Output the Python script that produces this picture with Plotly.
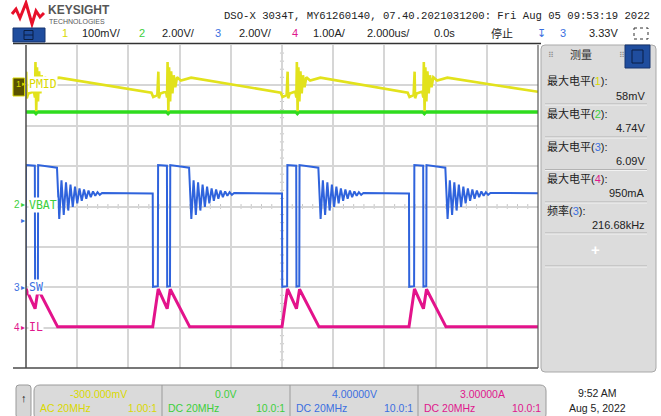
import plotly.graph_objects as go

# ---------------- data ----------------
# channel settings: volts (amps) per division and value at screen centre
ch_scale = {"1": 0.1, "2": 2.0, "3": 2.0, "4": 1.0}
ch_offset = {"1": -0.3, "2": 0.0, "3": 4.0, "4": 3.0}

time_range_us = [-10.0, 10.0]          # 2.000 us/div, 10 divisions, trigger at 0.0 s
burst_start_us = [-10.21, -5.05, 0.0, 4.96]

# SW (channel 3) switching burst, times relative to burst start (us), volts
sw_burst_t = [0.0, 0.01, 0.20, 0.21, 0.555, 0.565, 0.675, 0.685, 1.42]
sw_burst_v = [4.65, 0.02, 0.05, 6.05, 6.02, 0.03, 0.05, 6.05, 5.92]
sw_ring_half_period_us = 0.088
sw_ring_v = [3.38, 5.30, 3.58, 5.20, 3.80, 5.08, 3.98, 4.98, 4.15, 4.90, 4.28,
             4.84, 4.38, 4.79, 4.46, 4.75, 4.53, 4.71, 4.58, 4.67]
sw_settled_v = 4.65

# IL (channel 4) inductor current during a burst, amps
il_burst_t = [0.0, 0.215, 0.565, 0.685, 1.445]
il_burst_a = [0.02, 0.96, 0.47, 0.95, 0.02]
il_base_a = 0.02

# PMID (channel 1, AC coupled) around a burst, volts
pmid_burst_t = [-0.05, 0.02, 0.18, 0.22, 0.24, 0.30, 0.52, 0.56, 0.58, 0.61, 0.64,
                0.68, 0.72, 0.77, 0.82, 0.88, 0.95, 1.10, 1.50]
pmid_burst_v = [-0.018, -0.029, -0.024, 0.034, -0.032, -0.020, -0.015, -0.030, 0.058,
                -0.064, 0.045, -0.040, 0.035, -0.020, 0.025, -0.005, 0.020, 0.012, 0.019]
pmid_end_v = -0.016

# VBAT (channel 2)
vbat_level_v = 4.68
vbat_burst_t = [0.55, 0.60, 0.65]
vbat_burst_v = [4.68, 4.61, 4.68]

# measurement panel
meas_labels = ["最大电平(1):", "最大电平(2):", "最大电平(3):", "最大电平(4):", "频率(3):"]
meas_channels = ["1", "2", "3", "4", "3"]
meas_values = ["58mV", "4.74V", "6.09V", "950mA", "216.68kHz"]

# ---------------- styling ----------------
COL = {"1": "#e2e21c", "2": "#2fdc1e", "3": "#2f63dc", "4": "#e3138b"}
TXT_COL = {"1": "#d9d900", "2": "#3ccf3c", "3": "#3a6fe0", "4": "#e0178d"}
W, H = 661, 416
L, R, T, B = 26, 538, 45, 368
SANS = "Liberation Sans, Noto Sans CJK SC, sans-serif"
MONO = "DejaVu Sans Mono, monospace"


def px(x):
    return (x - L) / (R - L)


def py(y):
    return (B - y) / (B - T)


def to_div(vals, ch):
    return [(v - ch_offset[ch]) / ch_scale[ch] for v in vals]


# ---------------- build traces ----------------
sw_t, sw_v = [], []
il_t, il_a = [], []
pm_t, pm_v = [], []
vb_t, vb_v = [time_range_us[0] - 0.3], [vbat_level_v]
for t0 in burst_start_us:
    for dt, v in zip(sw_burst_t, sw_burst_v):
        sw_t.append(t0 + dt)
        sw_v.append(v)
    tr = t0 + sw_burst_t[-1]
    for k, v in enumerate(sw_ring_v):
        sw_t.append(tr + (k + 1) * sw_ring_half_period_us)
        sw_v.append(v)
    for dt, a in zip(il_burst_t, il_burst_a):
        il_t.append(t0 + dt)
        il_a.append(a)
    for dt, v in zip(pmid_burst_t, pmid_burst_v):
        pm_t.append(t0 + dt)
        pm_v.append(v)
    for dt, v in zip(vbat_burst_t, vbat_burst_v):
        vb_t.append(t0 + dt)
        vb_v.append(v)
sw_t.append(time_range_us[1] + 0.3); sw_v.append(sw_settled_v)
il_t.append(time_range_us[1] + 0.3); il_a.append(il_base_a)
pm_t.append(time_range_us[1]); pm_v.append(pmid_end_v)
vb_t.append(time_range_us[1] + 0.3); vb_v.append(vbat_level_v)

fig = go.Figure()
fig.add_trace(go.Scatter(x=vb_t, y=to_div(vb_v, "2"), mode="lines",
                         line=dict(color=COL["2"], width=3.5), name="VBAT"))
fig.add_trace(go.Scatter(x=pm_t, y=to_div(pm_v, "1"), mode="lines",
                         line=dict(color=COL["1"], width=2.6), name="PMID"))
fig.add_trace(go.Scatter(x=sw_t, y=to_div(sw_v, "3"), mode="lines",
                         line=dict(color=COL["3"], width=2), name="SW"))
fig.add_trace(go.Scatter(x=il_t, y=to_div(il_a, "4"), mode="lines",
                         line=dict(color=COL["4"], width=3), name="IL"))

shapes = []
ann = []


def text(x, y, s, color="#222", size=11, anchor="left", family=SANS, bold=False, bg=None):
    d = dict(x=px(x), y=py(y), xref="paper", yref="paper", text=("<b>%s</b>" % s) if bold else s,
             showarrow=False, xanchor=anchor, yanchor="middle",
             font=dict(color=color, size=size, family=family))
    if bg:
        d["bgcolor"] = bg
        d["borderpad"] = 0
    ann.append(d)


def line(x0, y0, x1, y1, color="#444", width=1.0, dash=None, layer="above"):
    d = dict(type="line", xref="paper", yref="paper", x0=px(x0), y0=py(y0), x1=px(x1), y1=py(y1),
             line=dict(color=color, width=width), layer=layer)
    if dash:
        d["line"]["dash"] = dash
    shapes.append(d)


def rect(x0, y0, x1, y1, fill, color, width=1.0, layer="above", dash=None):
    d = dict(type="rect", xref="paper", yref="paper", x0=px(x0), y0=py(y0), x1=px(x1), y1=py(y1),
             fillcolor=fill, line=dict(color=color, width=width), layer=layer)
    if dash:
        d["line"]["dash"] = dash
    shapes.append(d)


def rrect(x0, y0, x1, y1, r, fill, color, width=1.0):
    X0, X1, Y0, Y1 = px(x0), px(x1), py(y0), py(y1)
    rx, ry = r / (R - L), r / (B - T)
    p = (f"M{X0+rx},{Y0} L{X1-rx},{Y0} Q{X1},{Y0} {X1},{Y0-ry} L{X1},{Y1+ry} "
         f"Q{X1},{Y1} {X1-rx},{Y1} L{X0+rx},{Y1} Q{X0},{Y1} {X0},{Y1+ry} "
         f"L{X0},{Y0-ry} Q{X0},{Y0} {X0+rx},{Y0} Z")
    shapes.append(dict(type="path", xref="paper", yref="paper", path=p, fillcolor=fill,
                       line=dict(color=color, width=width), layer="above"))


# centre cross minor ticks
for k in range(-25, 26):
    if k % 5:
        shapes.append(dict(type="line", xref="x", yref="y", x0=k * 0.4, x1=k * 0.4, y0=-0.06, y1=0.06,
                           line=dict(color="#c4c4c4", width=1), layer="below"))
for k in range(-20, 21):
    if k % 5:
        shapes.append(dict(type="line", xref="x", yref="y", x0=-0.08, x1=0.08, y0=k * 0.2, y1=k * 0.2,
                           line=dict(color="#c4c4c4", width=1), layer="below"))

# frame
line(26, 45, 26, 368, "#4a4a4a", 1.5)
line(13, 368, 538, 368, "#4a4a4a", 1.5)
line(538, 45, 538, 368, "#5a5a5a", 1.2)
line(13, 43.5, 541, 43.5, "#333333", 1.5)

# ---------------- header ----------------
shapes.append(dict(type="path", xref="paper", yref="paper",
                   path="M{},{} L{},{} L{},{} L{},{} L{},{} L{},{} L{},{} L{},{}".format(
                       px(12), py(14), px(16), py(9), px(20), py(18), px(26), py(3),
                       px(32), py(24), px(36), py(11), px(40), py(17), px(44), py(13)),
                   line=dict(color="#e8102a", width=3), layer="above"))
text(46, 9.5, "KEYSIGHT", "#575757", 12, bold=True)
text(47, 21.5, "TECHNOLOGIES", "#575757", 7)
text(652, 15.5, "DSO-X 3034T, MY61260140, 07.40.2021031200: Fri Aug 05 09:53:19 2022",
     "#222", 10.6, anchor="right", family="Liberation Mono, monospace")

rect(13, 28, 45, 42, "#1f4d9e", "#16356e", 1)
rect(24, 30.5, 33, 39.5, "rgba(0,0,0,0)", "#0b1f44", 1)
line(24, 35, 33, 35, "#0b1f44", 1)
row = 33
text(60, row, "1", TXT_COL["1"], 11)
text(80, row, "100mV/", "#222", 11)
text(137, row, "2", TXT_COL["2"], 11)
text(160, row, "2.00V/", "#222", 11)
text(213, row, "3", TXT_COL["3"], 11)
text(237, row, "2.00V/", "#222", 11)
text(290, row, "4", TXT_COL["4"], 11)
text(311, row, "1.00A/", "#222", 11)
text(365, row, "2.000us/", "#222", 11)
text(432, row, "0.0s", "#222", 11)
text(489, row, "停止", "#222", 11)
text(535, row, "↧", TXT_COL["3"], 11)
text(558, row, "3", TXT_COL["3"], 11)
text(587, row, "3.33V", "#222", 11)
rect(634, 28, 648, 39, "rgba(0,0,0,0)", "#333", 1, dash="dot")

# ---------------- channel markers ----------------
rect(13, 78, 24.5, 96, "#5a5200", "#d8d800", 1)
text(14, 84, "1", TXT_COL["1"], 9)
text(19.5, 84, "▸", TXT_COL["1"], 7)
text(28, 84, "PMID", TXT_COL["1"], 11.5, family=MONO, bg="white")
text(12, 205, "2", TXT_COL["2"], 10)
text(19, 205, "▸", TXT_COL["2"], 8)
text(28, 205, "VBAT", TXT_COL["2"], 11.5, family=MONO, bg="white")
text(19, 220, "▸", TXT_COL["3"], 8)
text(12, 287, "3", TXT_COL["3"], 10)
text(19, 287, "▸", TXT_COL["3"], 8)
text(28, 287, "SW", TXT_COL["3"], 11.5, family=MONO, bg="white")
text(12, 327, "4", TXT_COL["4"], 10)
text(19, 327, "▸", TXT_COL["4"], 8)
text(28, 327, "IL", TXT_COL["4"], 11.5, family=MONO, bg="white")

# ---------------- measurement panel ----------------
rrect(541, 45, 656, 372, 4, "#dcdcdc", "#a9a9a9", 1)
rect(625, 45, 650, 68, "#1f4d9e", "#16356e", 1)
rect(632, 50, 643, 63, "rgba(0,0,0,0)", "#0b1f44", 1)
text(546, 55, "⠿", "#8a8a8a", 8)
text(617, 55, "⠿", "#8a8a8a", 8)
text(581, 55, "测量", "#333", 11, anchor="center")
label_y = [80, 113, 146, 178, 210]
value_y = [96, 128, 161, 193, 225]
sep_y = [104, 137, 169.5, 202, 233, 266]
for lab, ch, val, ly, vy in zip(meas_labels, meas_channels, meas_values, label_y, value_y):
    s = lab.replace("(%s)" % ch, "(<span style='color:%s'>%s</span>)" % (TXT_COL[ch], ch))
    text(545, ly, s, "#222", 11)
    text(647, vy, val, "#222", 11, anchor="right")
for sy in sep_y:
    line(545, sy, 647, sy, "#b3b3b3", 1)
    line(545, sy + 1, 647, sy + 1, "#f2f2f2", 1)
text(595, 249, "<b>+</b>", "#ffffff", 15, anchor="center")

# ---------------- bottom bar ----------------
rrect(16, 385, 31, 418, 3, "#d6d6d6", "#9a9a9a", 1)
text(23.5, 398, "<b>↑</b>", "#111", 11, anchor="center")
rrect(34, 385, 546, 420, 6, "#dadada", "#9a9a9a", 1)
for xd in [162, 290, 418]:
    line(xd, 385, xd, 416, "#9a9a9a", 1)
sections = [("1", "-300.000mV", "AC 20MHz", "1.00:1", 34),
            ("2", "0.0V", "DC 20MHz", "10.0:1", 162),
            ("3", "4.00000V", "DC 20MHz", "10.0:1", 290),
            ("4", "3.00000A", "DC 20MHz", "10.0:1", 418)]
for ch, off, cpl, probe, x0 in sections:
    c = TXT_COL[ch]
    text(x0 + 64, 394, off, c, 10.5, anchor="center")
    text(x0 + 4, 407.5, cpl, c, 10.5)
    text(x0 + 125, 407.5, probe, c, 10.5, anchor="right")
text(597, 393, "9:52 AM", "#222", 10.5, anchor="center")
text(597, 408, "Aug 5, 2022", "#222", 10.5, anchor="center")

fig.update_layout(
    width=W, height=H, autosize=False,
    margin=dict(l=L, r=W - R, t=T, b=H - B, pad=0),
    paper_bgcolor="white", plot_bgcolor="white",
    showlegend=False,
    xaxis=dict(range=time_range_us, showgrid=True, gridcolor="#d6d6d6", gridwidth=1.5,
               dtick=2, tick0=-10, showticklabels=False, ticks="", zeroline=False, showline=False,
               fixedrange=True),
    yaxis=dict(range=[-4, 4], showgrid=True, gridcolor="#d6d6d6", gridwidth=1.5,
               dtick=1, tick0=0, showticklabels=False, ticks="", zeroline=False, showline=False,
               fixedrange=True),
    shapes=shapes, annotations=ann,
)

fig.write_html("out.html", config={"displayModeBar": False})
